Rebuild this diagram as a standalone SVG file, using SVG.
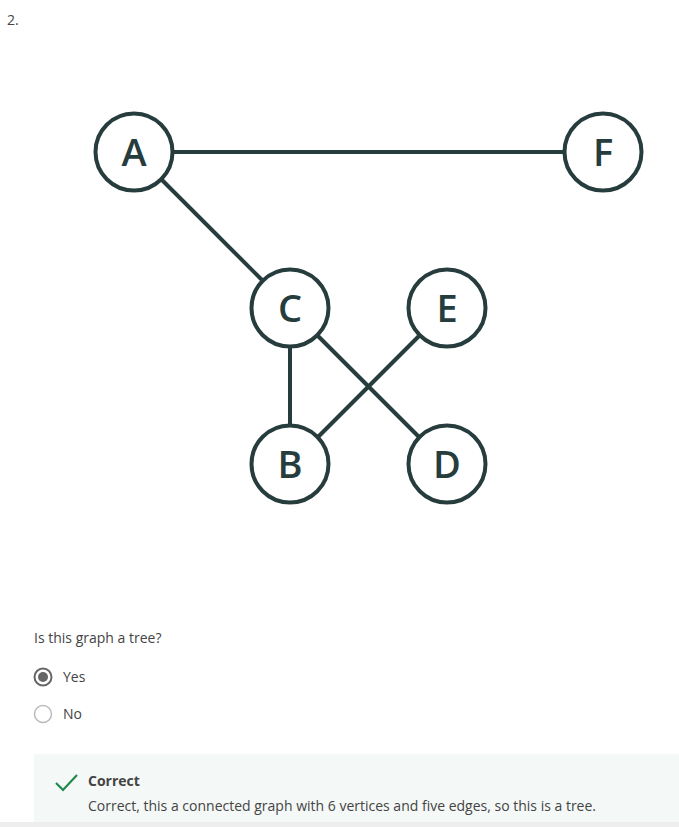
<svg xmlns="http://www.w3.org/2000/svg" width="679" height="827" viewBox="0 0 679 827">
<style>
.node circle{fill:#fff;stroke:#263c3d;stroke-width:4}
.node text{font-family:"Open Sans","Noto Sans",sans-serif;font-size:38px;font-weight:600;fill:#263c3d;text-anchor:middle}
.edge{stroke:#263c3d;stroke-width:4;fill:none}
.t{font-family:"Open Sans","Noto Sans",sans-serif;fill:#444;font-size:14px}
</style>
<rect width="679" height="827" fill="#fff"/>
<text class="t" x="7" y="25" font-size="13" fill="#555">2.</text>
<g id="connectors">
<line class="edge" x1="172" y1="152" x2="564" y2="152"/>
<line class="edge" x1="162" y1="180" x2="262" y2="280"/>
<line class="edge" x1="290" y1="348" x2="290" y2="424"/>
<line class="edge" x1="318" y1="336" x2="419" y2="437"/>
<line class="edge" x1="419" y1="336" x2="318" y2="437"/>
</g>
<g id="node-A" class="node"><circle cx="134" cy="152" r="38.5"/><text x="134" y="166">A</text></g>
<g id="node-F" class="node"><circle cx="603" cy="152" r="38.5"/><text x="603" y="166">F</text></g>
<g id="node-C" class="node"><circle cx="290" cy="308" r="38.5"/><text x="290" y="322">C</text></g>
<g id="node-E" class="node"><circle cx="447" cy="308" r="38.5"/><text x="447" y="322">E</text></g>
<g id="node-B" class="node"><circle cx="290" cy="464" r="38.5"/><text x="290" y="478">B</text></g>
<g id="node-D" class="node"><circle cx="447" cy="464" r="38.5"/><text x="447" y="478">D</text></g>
<text class="t" x="34" y="643">Is this graph a tree?</text>
<circle cx="43" cy="677" r="8.5" fill="#fff" stroke="#666" stroke-width="2"/>
<circle cx="43" cy="677" r="5" fill="#666"/>
<text class="t" x="63" y="682">Yes</text>
<circle cx="43" cy="714" r="8.5" fill="#fff" stroke="#bbb" stroke-width="1.5"/>
<text class="t" x="63" y="719">No</text>
<rect x="34" y="754" width="645" height="68" fill="#f4f8f7"/>
<rect x="0" y="822" width="679" height="5" fill="#eeeeee"/>
<polyline points="56,783 63,790 77,775" fill="none" stroke="#1f8a4c" stroke-width="2.2"/>
<text class="t" x="88" y="786" font-size="10.5" font-weight="bold" fill="#333">Correct</text>
<text class="t" x="88" y="811">Correct, this a connected graph with 6 vertices and five edges, so this is a tree.</text>
</svg>
